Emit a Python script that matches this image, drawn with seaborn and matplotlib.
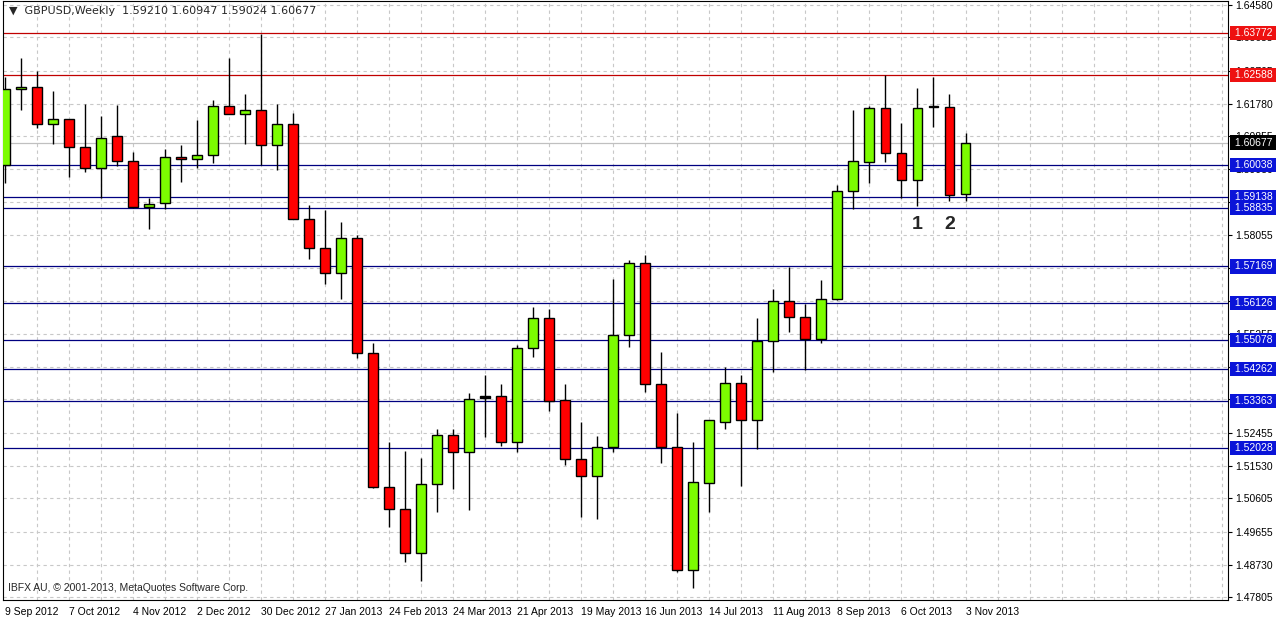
import numpy as np
import pandas as pd
import matplotlib
matplotlib.use("Agg")
import matplotlib.pyplot as plt
import seaborn as sns

# weekly GBPUSD candles
opens = [1.6004, 1.6219, 1.6224, 1.6120, 1.6134, 1.6055, 1.5995, 1.6086, 1.6015, 1.5885,
         1.5897, 1.6027, 1.6021, 1.6032, 1.6171, 1.6148, 1.6159, 1.6060, 1.6120, 1.5851,
         1.5770, 1.5699, 1.5798, 1.5473, 1.5092, 1.5030, 1.4905, 1.5100, 1.5239, 1.5191,
         1.5346, 1.5349, 1.5219, 1.5487, 1.5572, 1.5340, 1.5171, 1.5123, 1.5205, 1.5524,
         1.5727, 1.5383, 1.5205, 1.4857, 1.5103, 1.5278, 1.5388, 1.5281, 1.5507, 1.5620,
         1.5575, 1.5513, 1.5625, 1.5930, 1.6012, 1.6165, 1.6038, 1.5962, 1.6168, 1.6168,
         1.59210]
highs = [1.6252, 1.6306, 1.6269, 1.6213, 1.6134, 1.6176, 1.6142, 1.6173, 1.6041, 1.5911,
         1.6049, 1.6060, 1.6131, 1.6187, 1.6306, 1.6204, 1.6374, 1.6176, 1.6151, 1.5891,
         1.5877, 1.5843, 1.5806, 1.5501, 1.5219, 1.5196, 1.5174, 1.5258, 1.5258, 1.5360,
         1.5411, 1.5385, 1.5496, 1.5603, 1.5597, 1.5385, 1.5278, 1.5236, 1.5682, 1.5736,
         1.5750, 1.5476, 1.5301, 1.5219, 1.5281, 1.5431, 1.5411, 1.5572, 1.5654, 1.5716,
         1.5611, 1.5679, 1.5947, 1.6159, 1.6171, 1.6258, 1.6123, 1.6221, 1.6252, 1.6204,
         1.60947]
lows = [1.5953, 1.6159, 1.6108, 1.6063, 1.5970, 1.5984, 1.5911, 1.6001, 1.5882, 1.5823,
        1.5880, 1.5956, 1.5995, 1.6010, 1.6148, 1.6063, 1.6004, 1.5990, 1.5851, 1.5738,
        1.5668, 1.5625, 1.5459, 1.5089, 1.4979, 1.4880, 1.4826, 1.5021, 1.5086, 1.5027,
        1.5233, 1.5210, 1.5191, 1.5462, 1.5309, 1.5154, 1.5007, 1.5001, 1.5191, 1.5490,
        1.5363, 1.5160, 1.4852, 1.4807, 1.5021, 1.5258, 1.5097, 1.5199, 1.5417, 1.5532,
        1.5425, 1.5501, 1.5623, 1.5880, 1.5953, 1.6012, 1.5911, 1.5888, 1.6111, 1.5902,
        1.59024]
closes = [1.6219, 1.6224, 1.6120, 1.6134, 1.6055, 1.5995, 1.6080, 1.6015, 1.5885, 1.5894,
          1.6027, 1.6021, 1.6032, 1.6171, 1.6148, 1.6159, 1.6060, 1.6120, 1.5851, 1.5770,
          1.5699, 1.5798, 1.5473, 1.5092, 1.5030, 1.4905, 1.5100, 1.5239, 1.5191, 1.5343,
          1.5346, 1.5219, 1.5487, 1.5572, 1.5337, 1.5171, 1.5123, 1.5205, 1.5524, 1.5727,
          1.5383, 1.5205, 1.4857, 1.5106, 1.5281, 1.5388, 1.5281, 1.5507, 1.5620, 1.5575,
          1.5513, 1.5625, 1.5930, 1.6015, 1.6165, 1.6038, 1.5962, 1.6165, 1.6168, 1.5919,
          1.60677]

date_labels = ["9 Sep 2012", "7 Oct 2012", "4 Nov 2012", "2 Dec 2012", "30 Dec 2012",
               "27 Jan 2013", "24 Feb 2013", "24 Mar 2013", "21 Apr 2013", "19 May 2013",
               "16 Jun 2013", "14 Jul 2013", "11 Aug 2013", "8 Sep 2013", "6 Oct 2013",
               "3 Nov 2013"]

red_levels = [1.63772, 1.62588]
blue_levels = [1.60038, 1.59138, 1.58835, 1.57169, 1.56126, 1.55078, 1.54262, 1.53363, 1.52028]
last_price = 1.60677
price_ticks = [1.64580, 1.63655, 1.62705, 1.61780, 1.60855, 1.59930, 1.59005, 1.58055,
               1.57130, 1.56205, 1.55255, 1.54330, 1.53405, 1.52455, 1.51530, 1.50605,
               1.49655, 1.48730, 1.47805]
marks = ["1", "2"]
mark_bars = [57, 59]

df = pd.DataFrame({"open": opens, "high": highs, "low": lows, "close": closes})
df["bar"] = np.arange(len(df))

sns.set_style("white")
plt.rcParams["font.family"] = ["Liberation Sans", "DejaVu Sans"]

fig = plt.figure(figsize=(12.76, 6.19), dpi=100)
ax = fig.add_axes([0.0024, 0.0307, 0.96, 0.967])
ax.set_xlim(-0.125, 76.4)
ax.set_ylim(1.4773, 1.6467)

# grid
for gx in range(2, 77, 2):
    ax.axvline(gx, color="#c8c8c8", lw=0.8, ls=(0, (3, 3)), zorder=0)
for gy in price_ticks:
    ax.axhline(gy, color="#c8c8c8", lw=0.8, ls=(0, (3, 3)), zorder=0)

# levels
for lv in red_levels:
    ax.axhline(lv, color="#c00000", lw=0.9, zorder=1)
for lv in blue_levels:
    ax.axhline(lv, color="#000080", lw=0.9, zorder=1)
ax.axhline(last_price, color="#c0c0c0", lw=0.9, zorder=1)

# candles
up = df["close"] >= df["open"]
ax.vlines(df["bar"], df["low"], df["high"], color="black", lw=1, zorder=2)
bottom = np.minimum(df["open"], df["close"])
height = np.maximum((df["close"] - df["open"]).abs(), 0.0003)
colors = np.where(df["close"] == df["open"], "black", np.where(up, "#7cfc00", "#ff0000"))
ax.bar(df["bar"], height, bottom=bottom, width=0.62, color=colors,
       edgecolor="black", linewidth=1, zorder=3)

# axes cosmetics
ax.yaxis.tick_right()
ax.set_yticks(price_ticks)
ax.set_yticklabels([f"{t:.5f}" for t in price_ticks], fontsize=7.5)
ax.set_xticks(np.arange(0, 4 * len(date_labels), 4))
ax.set_xticklabels(date_labels, fontsize=7.5, ha="left")
ax.tick_params(axis="both", length=3, width=0.8, pad=2, direction="out", colors="black")
for s in ax.spines.values():
    s.set_color("black")
    s.set_linewidth(0.8)

# price tags drawn over the tick labels, as in the terminal
def tag(y, bg):
    ax.text(1.003, y, f" {y:.5f}  ", transform=ax.get_yaxis_transform(), fontsize=7.5,
            color="white", va="center", ha="left",
            bbox=dict(boxstyle="square,pad=0.2", fc=bg, ec="none"), zorder=5, clip_on=False)

for lv in red_levels:
    tag(lv, "#ee1111")
for lv in blue_levels:
    tag(lv, "#0a14d8")
tag(last_price, "black")

ax.text(0.005, 0.993, "\u25BC  GBPUSD,Weekly  1.59210 1.60947 1.59024 1.60677",
        transform=ax.transAxes, fontsize=8, va="top", ha="left", family=["DejaVu Sans"])
ax.text(0.004, 0.012, "IBFX AU, \u00a9 2001-2013, MetaQuotes Software Corp.",
        transform=ax.transAxes, fontsize=7.5, va="bottom", ha="left")
for m, b in zip(marks, mark_bars):
    ax.text(b, 1.5835, m, fontsize=14, fontweight="bold", ha="center", va="center")

fig.savefig("out.png", dpi=100)
